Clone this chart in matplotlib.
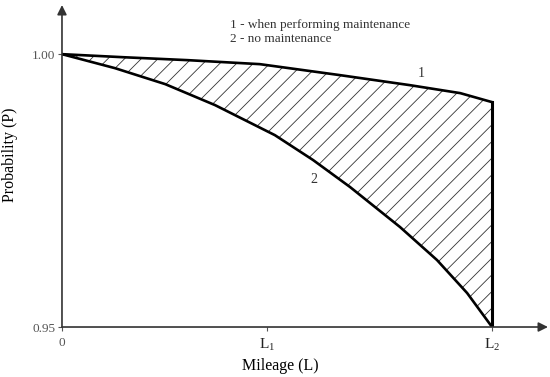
import numpy as np
import matplotlib
matplotlib.use("Agg")
import matplotlib.pyplot as plt

# mileage as a fraction of L2
L1 = 0.477
L2 = 1.0

# curve 1 - when performing maintenance
x_maint = [0.0, 0.140, 0.293, 0.460, 0.647, 0.809, 0.926, 1.0]
p_maint = [1.0, 0.99945, 0.99890, 0.99817, 0.99615, 0.99432, 0.99286, 0.99121]

# curve 2 - no maintenance
x_none = [0.0, 0.123, 0.240, 0.356, 0.495, 0.584, 0.670, 0.786, 0.872, 0.942, 1.0]
p_none = [1.0, 0.99744, 0.99451, 0.99066, 0.98516, 0.98059, 0.97564, 0.96832, 0.96227, 0.95623, 0.95]

xtick_pos = [0.0, L1, L2]
xtick_lab = ["0", "L$_1$", "L$_2$"]
ytick_pos = [0.95, 1.00]
ytick_lab = ["0.95", "1.00"]

plt.rcParams['font.family'] = ['Liberation Serif', 'DejaVu Serif']
plt.rcParams['hatch.linewidth'] = 0.6
plt.rcParams['mathtext.fontset'] = 'custom'
plt.rcParams['mathtext.rm'] = 'Liberation Serif'

fig = plt.figure(figsize=(5.5, 3.77), dpi=100)
ax = fig.add_axes([0.1127, 0.1326, 0.8836, 0.854])
ax.set_xlim(0, 1.13)
ax.set_ylim(0.95, 1.009)

# hatched region between the curves
ax.fill(np.concatenate([x_maint, x_none[::-1]]),
        np.concatenate([p_maint, p_none[::-1]]),
        facecolor='none', edgecolor='#333333', hatch='//', linewidth=0)

ax.plot(x_maint, p_maint, color='black', lw=1.9, solid_joinstyle='round')
ax.plot(x_none, p_none, color='black', lw=1.9, solid_joinstyle='round')
ax.plot([L2, L2], [p_none[-1], p_maint[-1]], color='black', lw=2.2)

for s in ax.spines.values():
    s.set_visible(False)

# axes with arrows
ax.annotate('', xy=(1.0, 0.0), xytext=(0.0, 0.0), xycoords='axes fraction',
            arrowprops=dict(arrowstyle='-|>', color='#333333', lw=1.2,
                            mutation_scale=14, shrinkA=0, shrinkB=0))
ax.annotate('', xy=(0.0, 1.0), xytext=(0.0, 0.0), xycoords='axes fraction',
            arrowprops=dict(arrowstyle='-|>', color='#333333', lw=1.2,
                            mutation_scale=14, shrinkA=0, shrinkB=0))

ax.set_xticks(xtick_pos)
ax.set_xticklabels(xtick_lab, fontsize=11, color='#222222')
ax.set_yticks(ytick_pos)
ax.set_yticklabels(ytick_lab, fontsize=9.5, color='#555555')
ax.tick_params(axis='x', length=3, width=0.8, pad=4, color='#555555')
ax.tick_params(axis='y', length=3, width=0.8, pad=2, color='#555555')
ax.get_xticklabels()[0].set_fontsize(9.5)
ax.get_xticklabels()[0].set_color('#555555')

ax.set_xlabel('Mileage (L)', fontsize=11.5, labelpad=3, x=0.45)
ax.set_ylabel('Probability (P)', fontsize=11.5, labelpad=10, y=0.534)

ax.text(0.39, 1.0048, '1 - when performing maintenance', fontsize=9.5, color='#333333')
ax.text(0.39, 1.0022, '2 - no maintenance', fontsize=9.5, color='#333333')
ax.text(0.827, 0.9958, '1', fontsize=10, color='#333333')
ax.text(0.578, 0.9764, '2', fontsize=10, color='#333333')

fig.savefig('out.png', dpi=100)
